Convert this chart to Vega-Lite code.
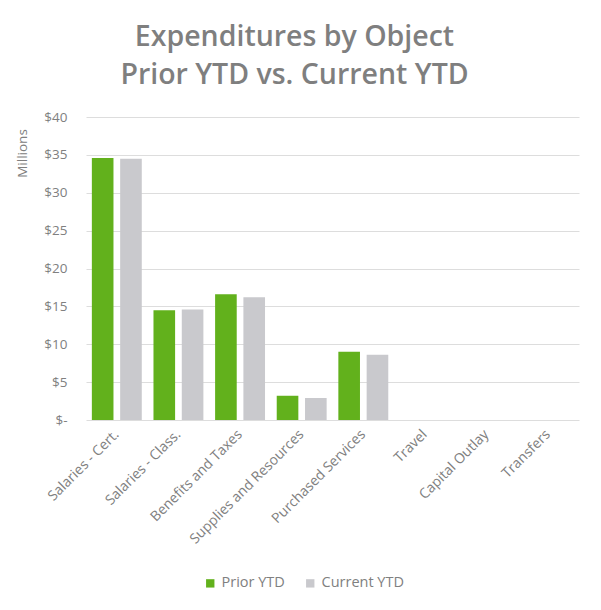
{
  "$schema": "https://vega.github.io/schema/vega-lite/v6.json",
  "autosize": "none",
  "width": 493,
  "height": 303,
  "padding": {"left": 86, "top": 117, "right": 22, "bottom": 190},
  "background": "white",
  "title": {
    "text": ["Expenditures by Object", "Prior YTD vs. Current YTD"],
    "font": "Open Sans",
    "fontSize": 28.5,
    "fontWeight": 600,
    "color": "#7f7f7f",
    "anchor": "middle",
    "dx": -38,
    "offset": 21,
    "lineHeight": 38
  },
  "config": {"view": {"stroke": null}},
  "data": {
    "values": [
      {"category": "Salaries - Cert.", "series": "Prior YTD", "value": 34.6},
      {"category": "Salaries - Cert.", "series": "Current YTD", "value": 34.5},
      {"category": "Salaries - Class.", "series": "Prior YTD", "value": 14.5},
      {"category": "Salaries - Class.", "series": "Current YTD", "value": 14.6},
      {"category": "Benefits and Taxes", "series": "Prior YTD", "value": 16.6},
      {"category": "Benefits and Taxes", "series": "Current YTD", "value": 16.2},
      {"category": "Supplies and Resources", "series": "Prior YTD", "value": 3.2},
      {"category": "Supplies and Resources", "series": "Current YTD", "value": 2.9},
      {"category": "Purchased Services", "series": "Prior YTD", "value": 9.0},
      {"category": "Purchased Services", "series": "Current YTD", "value": 8.6},
      {"category": "Travel", "series": "Prior YTD", "value": 0},
      {"category": "Travel", "series": "Current YTD", "value": 0},
      {"category": "Capital Outlay", "series": "Prior YTD", "value": 0},
      {"category": "Capital Outlay", "series": "Current YTD", "value": 0},
      {"category": "Transfers", "series": "Prior YTD", "value": 0},
      {"category": "Transfers", "series": "Current YTD", "value": 0}
    ]
  },
  "mark": {"type": "bar"},
  "encoding": {
    "x": {
      "field": "category",
      "type": "nominal",
      "sort": null,
      "scale": {"paddingInner": 0.19, "paddingOuter": 0.095},
      "axis": {
        "title": null,
        "labelAngle": -45,
        "labelAlign": "right",
        "labelBaseline": "middle",
        "labelFont": "Open Sans",
        "labelFontSize": 14,
        "labelColor": "#808080",
        "labelPadding": 12,
        "ticks": false,
        "domain": false,
        "grid": false
      }
    },
    "xOffset": {
      "field": "series",
      "type": "nominal",
      "sort": ["Prior YTD", "Current YTD"],
      "scale": {"paddingInner": 0.236, "paddingOuter": 0}
    },
    "y": {
      "field": "value",
      "type": "quantitative",
      "scale": {"domain": [0, 40], "nice": false},
      "axis": {
        "title": "Millions",
        "titleFont": "Open Sans",
        "titleFontSize": 13.5,
        "titleFontWeight": "normal",
        "titleColor": "#808080",
        "titleAngle": -90,
        "titleX": -64,
        "titleY": 36,
        "titleAlign": "center",
        "titleBaseline": "middle",
        "values": [0, 5, 10, 15, 20, 25, 30, 35, 40],
        "labelExpr": "datum.value == 0 ? '$-' : '$' + datum.value",
        "labelFont": "Open Sans",
        "labelFontSize": 13.5,
        "labelColor": "#808080",
        "labelPadding": 19,
        "ticks": false,
        "domain": false,
        "grid": true,
        "gridColor": "#dddddd",
        "gridWidth": 1
      }
    },
    "color": {
      "field": "series",
      "type": "nominal",
      "sort": ["Prior YTD", "Current YTD"],
      "scale": {"domain": ["Prior YTD", "Current YTD"], "range": ["#62b11c", "#c9c9cd"]},
      "legend": {
        "title": null,
        "orient": "none",
        "direction": "horizontal",
        "legendX": 117,
        "legendY": 459,
        "symbolType": "square",
        "symbolSize": 70,
        "symbolStrokeWidth": 0,
        "labelFont": "Open Sans",
        "labelFontSize": 14.5,
        "labelColor": "#808080",
        "columnPadding": 18,
        "labelOffset": 4
      }
    }
  }
}
